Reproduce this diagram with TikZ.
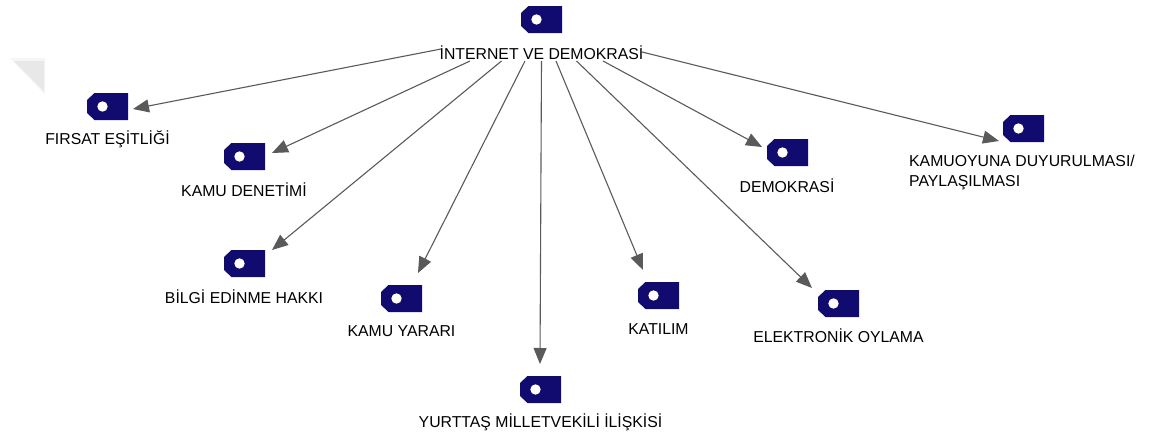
\documentclass[tikz,border=0pt]{standalone}
\usepackage{fontspec}
\setmainfont{Liberation Sans}
\usetikzlibrary{arrows.meta}
\definecolor{tagblue}{HTML}{110B70}
\definecolor{linkgray}{HTML}{5A5A5A}
\tikzset{
  tagicon/.style={minimum width=41pt,minimum height=27pt,inner sep=0pt,outer sep=0pt,
    path picture={
      \begin{scope}[shift={(path picture bounding box.center)}]
        \fill[tagblue] (-20.5,-6.5) -- (-13,-13.5) -- (20.5,-13.5) -- (20.5,13.5) -- (-13,13.5) -- (-20.5,6.5) -- cycle;
        \fill[white] (-5,0) circle (5.2);
      \end{scope}}},
  label/.style={inner sep=0pt,font=\fontsize{15.8}{20}\selectfont,text=black,align=left},
  link/.style={draw=linkgray,line width=1.1pt,-{Triangle[length=16pt,width=13pt,fill=linkgray]}}
}
\begin{document}
\begin{tikzpicture}[x=1pt,y=-1pt]
\useasboundingbox (0,0) rectangle (1152,439);
\fill[black!4] (10,58) -- (45,58) -- (45,95) -- cycle;
\fill[black!9] (14,61) -- (44,61) -- (44,91) -- cycle;
% tags
\node[tagicon] (troot) at (541.5,19.5) {};
\node[tagicon] (t1) at (107.5,106.5) {};
\node[tagicon] (t2) at (244.5,156.5) {};
\node[tagicon] (t3) at (244.5,263.5) {};
\node[tagicon] (t4) at (401.5,298.5) {};
\node[tagicon] (t5) at (540.5,389.5) {};
\node[tagicon] (t6) at (658.5,295.5) {};
\node[tagicon] (t7) at (838.5,303.5) {};
\node[tagicon] (t8) at (787.5,152.5) {};
\node[tagicon] (t9) at (1023.5,128.5) {};
% labels
\node[label] (root) at (541.5,53) {İNTERNET VE DEMOKRASİ};
\node[label] (l1) at (107.5,139.5) {FIRSAT EŞİTLİĞİ};
\node[label] (l2) at (244,189.5) {KAMU DENETİMİ};
\node[label] (l3) at (244,296.5) {BİLGİ EDİNME HAKKI};
\node[label] (l4) at (401.5,331.5) {KAMU YARARI};
\node[label] (l5) at (540.5,422) {YURTTAŞ MİLLETVEKİLİ İLİŞKİSİ};
\node[label] (l6) at (658.5,329) {KATILIM};
\node[label] (l7) at (838.5,336) {ELEKTRONİK OYLAMA};
\node[label] (l8) at (787,185.5) {DEMOKRASİ};
\node[label] (l9) at (1022,172) {KAMUOYUNA DUYURULMASI/\\PAYLAŞILMASI};
% connector ends
\coordinate (s1) at (441,49);   \coordinate (e1) at (133,109);
\coordinate (s2) at (470,61);   \coordinate (e2) at (272,153);
\coordinate (s3) at (501.5,61); \coordinate (e3) at (272,250);
\coordinate (s4) at (525,61);   \coordinate (e4) at (418,273);
\coordinate (s5) at (541.5,61); \coordinate (e5) at (540,364);
\coordinate (s6) at (556,61);   \coordinate (e6) at (643,270);
\coordinate (s7) at (576.5,61); \coordinate (e7) at (812,288);
\coordinate (s8) at (603,61);   \coordinate (e8) at (762,147);
\coordinate (s9) at (642,52);   \coordinate (e9) at (999,141);
\foreach \i in {1,...,9} \draw[link] (s\i) -- (e\i);
\end{tikzpicture}
\end{document}
